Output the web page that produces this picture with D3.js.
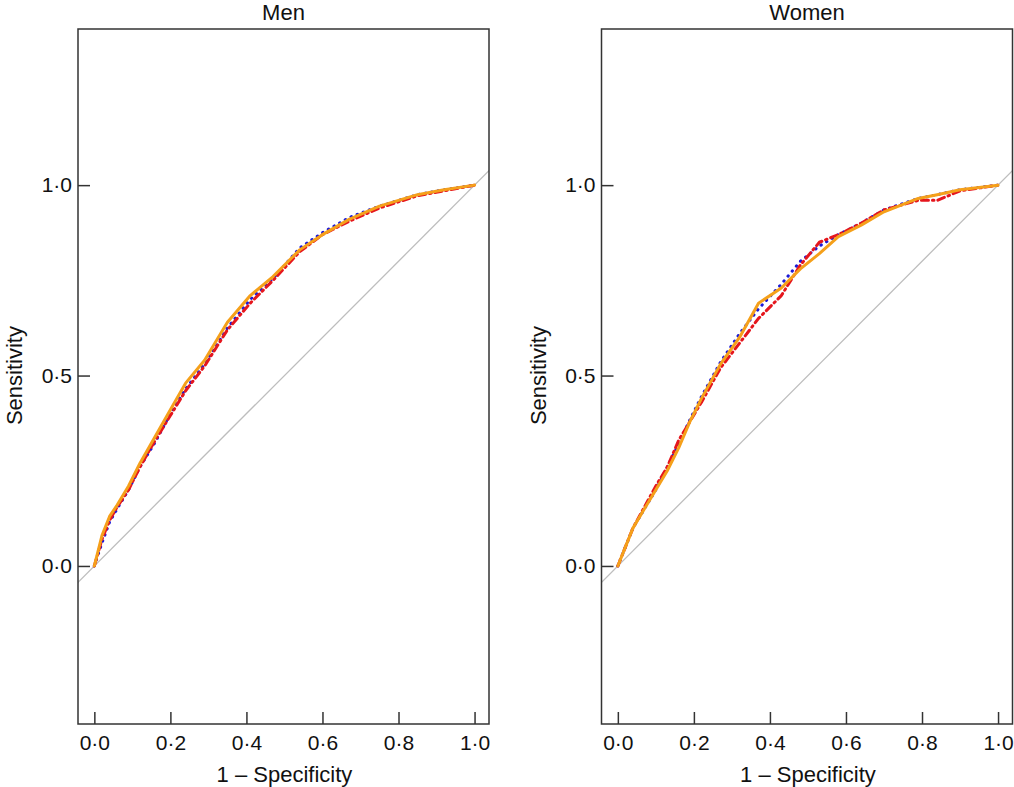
<!DOCTYPE html>
<html>
<head>
<meta charset="utf-8">
<script src="https://cdn.jsdelivr.net/npm/d3@7"></script>
<style>
  body { margin: 0; background: #fff; }
  text { font-family: "Liberation Sans", Arial, sans-serif; fill: #111; }
</style>
</head>
<body>
<div id="chart"></div>
<script>
// ---- data ----
const panels = ["Men", "Women"];
const xTicks = [0, 0.2, 0.4, 0.6, 0.8, 1.0];
const yTicks = [0, 0.5, 1.0];

// Men
const menFpr    = [0, 0.02, 0.04, 0.06, 0.09, 0.12, 0.16, 0.20, 0.24, 0.29, 0.35, 0.41, 0.47, 0.54, 0.60, 0.67, 0.75, 0.85, 0.92, 1];
const menOrange = [0, 0.08, 0.13, 0.16, 0.21, 0.27, 0.34, 0.41, 0.48, 0.54, 0.64, 0.71, 0.76, 0.83, 0.87, 0.91, 0.945, 0.975, 0.988, 1];
const menRed    = [0, 0.07, 0.12, 0.155, 0.20, 0.26, 0.33, 0.395, 0.46, 0.525, 0.62, 0.69, 0.75, 0.825, 0.87, 0.905, 0.94, 0.972, 0.985, 1];
const menBlue   = [0, 0.06, 0.115, 0.15, 0.20, 0.26, 0.325, 0.40, 0.465, 0.53, 0.625, 0.70, 0.755, 0.835, 0.875, 0.915, 0.945, 0.975, 0.988, 1];

// Women
const womenFpr    = [0, 0.02, 0.04, 0.07, 0.10, 0.13, 0.16, 0.19, 0.22, 0.27, 0.32, 0.37, 0.43, 0.48, 0.53, 0.58, 0.64, 0.70, 0.79, 0.84, 0.90, 1];
const womenOrange = [0, 0.05, 0.10, 0.15, 0.20, 0.25, 0.31, 0.38, 0.44, 0.53, 0.60, 0.69, 0.73, 0.78, 0.82, 0.865, 0.895, 0.93, 0.965, 0.975, 0.988, 1];
const womenRed    = [0, 0.05, 0.10, 0.155, 0.21, 0.26, 0.33, 0.38, 0.43, 0.52, 0.585, 0.65, 0.71, 0.79, 0.85, 0.87, 0.90, 0.935, 0.96, 0.96, 0.985, 1];
const womenBlue   = [0, 0.05, 0.10, 0.15, 0.20, 0.26, 0.32, 0.385, 0.445, 0.535, 0.61, 0.675, 0.74, 0.80, 0.84, 0.87, 0.90, 0.935, 0.965, 0.975, 0.988, 1];

const panelData = {
  Men:   { fpr: menFpr,   series: [menBlue, menRed, menOrange] },
  Women: { fpr: womenFpr, series: [womenBlue, womenRed, womenOrange] }
};
const seriesStyle = [
  { color: "#1c1ad6", dash: "0.5,6" },     // blue dotted
  { color: "#e5161d", dash: "7,4,1.5,4" }, // red dash-dot
  { color: "#f5a01a", dash: null }         // orange solid
];

const W = 1014, H = 787;
const boxW = 411, boxTop = 29, boxBottom = 724;
const lefts = [78, 601.5];
const fmt = v => d3.format(".1f")(v).replace(".", "·");

const svg = d3.select("#chart").append("svg")
  .attr("width", W).attr("height", H);

panels.forEach((name, i) => {
  const x0 = lefts[i];
  const x = d3.scaleLinear().domain([-0.043, 1.038]).range([x0, x0 + boxW]);
  const y = d3.scaleLinear().domain([-0.415, 1.41]).range([boxBottom, boxTop]);
  const g = svg.append("g");

  g.append("clipPath").attr("id", "clip" + i)
    .append("rect")
    .attr("x", x0).attr("y", boxTop).attr("width", boxW).attr("height", boxBottom - boxTop);

  const plot = g.append("g").attr("clip-path", `url(#clip${i})`);

  // reference diagonal
  plot.append("line")
    .attr("x1", x(-0.1)).attr("y1", y(-0.1))
    .attr("x2", x(1.1)).attr("y2", y(1.1))
    .attr("stroke", "#bdbdbd").attr("stroke-width", 1.3);

  const d = panelData[name];
  const line = d3.line().x((v, k) => x(d.fpr[k])).y(v => y(v));
  d.series.forEach((s, k) => {
    plot.append("path")
      .attr("d", line(s))
      .attr("fill", "none")
      .attr("stroke", seriesStyle[k].color)
      .attr("stroke-width", 3)
      .attr("stroke-linecap", "round")
      .attr("stroke-linejoin", "round")
      .attr("stroke-dasharray", seriesStyle[k].dash);
  });

  // box
  g.append("rect")
    .attr("x", x0).attr("y", boxTop).attr("width", boxW).attr("height", boxBottom - boxTop)
    .attr("fill", "none").attr("stroke", "#333").attr("stroke-width", 1.5);

  // x axis, ticks pointing inward
  const xa = g.append("g").attr("transform", `translate(0,${boxBottom})`)
    .call(d3.axisBottom(x).tickValues(xTicks).tickSizeInner(-12).tickSizeOuter(0)
      .tickPadding(11).tickFormat(fmt));
  xa.select(".domain").remove();
  xa.selectAll("line").attr("stroke", "#333").attr("stroke-width", 1.5);
  xa.selectAll("text").attr("font-size", 21).attr("font-family", "Liberation Sans, Arial, sans-serif").attr("fill", "#111");

  // y axis
  const ya = g.append("g").attr("transform", `translate(${x0},0)`)
    .call(d3.axisLeft(y).tickValues(yTicks).tickSizeInner(-12).tickSizeOuter(0)
      .tickPadding(6).tickFormat(fmt));
  ya.select(".domain").remove();
  ya.selectAll("line").attr("stroke", "#333").attr("stroke-width", 1.5);
  ya.selectAll("text").attr("font-size", 21).attr("font-family", "Liberation Sans, Arial, sans-serif").attr("fill", "#111");

  // titles
  g.append("text")
    .attr("x", x0 + boxW / 2).attr("y", 20)
    .attr("text-anchor", "middle").attr("font-size", 22)
    .text(name);

  g.append("text")
    .attr("x", x(0.5)).attr("y", 782)
    .attr("text-anchor", "middle").attr("font-size", 22)
    .text("1 – Specificity");

  g.append("text")
    .attr("transform", `translate(${x0 - 56},${y(0.5)}) rotate(-90)`)
    .attr("text-anchor", "middle").attr("font-size", 22)
    .text("Sensitivity");
});
</script>
</body>
</html>
